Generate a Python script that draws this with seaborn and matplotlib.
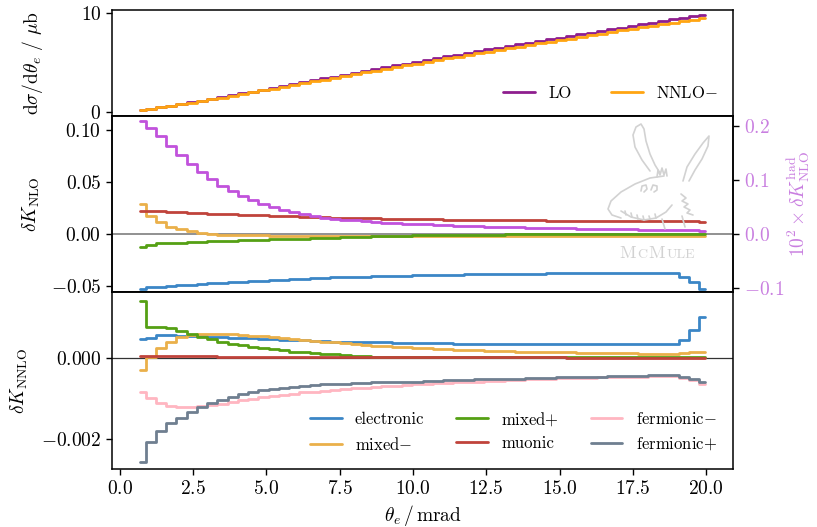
import numpy as np
import pandas as pd
import matplotlib
matplotlib.use("Agg")
import matplotlib.pyplot as plt
from matplotlib.lines import Line2D
from matplotlib.offsetbox import TextArea, HPacker, AnchoredOffsetbox
import seaborn as sns

# ---------------------------------------------------------------- data
# bin centres in theta_e (mrad)
theta = np.round(np.arange(0.70, 20.0, 0.35), 2)

lo = [0.15, 0.30, 0.46, 0.62, 0.79, 0.96, 1.13, 1.31,
      1.49, 1.67, 1.86, 2.05, 2.24, 2.43, 2.62, 2.81,
      3.00, 3.19, 3.38, 3.57, 3.76, 3.95, 4.14, 4.33,
      4.52, 4.71, 4.90, 5.08, 5.26, 5.44, 5.62, 5.80,
      5.98, 6.16, 6.34, 6.52, 6.69, 6.86, 7.03, 7.20,
      7.37, 7.54, 7.71, 7.88, 8.05, 8.22, 8.39, 8.56,
      8.73, 8.90, 9.06, 9.22, 9.38, 9.54, 9.70, 9.86]

nnlo_minus = [0.14, 0.29, 0.44, 0.60, 0.76, 0.93, 1.09, 1.26,
              1.44, 1.61, 1.79, 1.98, 2.16, 2.34, 2.53, 2.71,
              2.90, 3.08, 3.26, 3.45, 3.63, 3.81, 4.00, 4.18,
              4.36, 4.55, 4.73, 4.90, 5.08, 5.25, 5.42, 5.60,
              5.77, 5.94, 6.12, 6.29, 6.46, 6.62, 6.78, 6.95,
              7.11, 7.28, 7.44, 7.60, 7.77, 7.93, 8.10, 8.26,
              8.42, 8.59, 8.74, 8.90, 9.05, 9.21, 9.36, 9.51]

# NLO K-factor corrections
nlo_electronic = [-0.0525, -0.0513, -0.0506, -0.0500, -0.0494, -0.0488, -0.0482, -0.0476,
                  -0.0470, -0.0465, -0.0459, -0.0454, -0.0449, -0.0444, -0.0439, -0.0435,
                  -0.0431, -0.0427, -0.0423, -0.0419, -0.0416, -0.0413, -0.0410, -0.0407,
                  -0.0405, -0.0402, -0.0400, -0.0398, -0.0396, -0.0394, -0.0392, -0.0391,
                  -0.0389, -0.0388, -0.0386, -0.0385, -0.0384, -0.0383, -0.0382, -0.0381,
                  -0.0380, -0.0379, -0.0378, -0.0378, -0.0377, -0.0377, -0.0376, -0.0376,
                  -0.0375, -0.0375, -0.0375, -0.0374, -0.0374, -0.0414, -0.0460, -0.0525]

nlo_mixed_minus = [0.0285, 0.0170, 0.0112, 0.0064, 0.0042, 0.0026, 0.0010, -0.0003,
                   -0.0008, -0.0011, -0.0013, -0.0015, -0.0016, -0.0017, -0.0017, -0.0018,
                   -0.0018, -0.0018, -0.0018, -0.0018, -0.0018, -0.0018, -0.0018, -0.0018,
                   -0.0018, -0.0018, -0.0018, -0.0018, -0.0018, -0.0018, -0.0018, -0.0018,
                   -0.0018, -0.0018, -0.0018, -0.0018, -0.0018, -0.0018, -0.0018, -0.0018,
                   -0.0019, -0.0019, -0.0019, -0.0019, -0.0019, -0.0019, -0.0019, -0.0019,
                   -0.0019, -0.0019, -0.0019, -0.0019, -0.0019, -0.0019, -0.0019, -0.0019]

nlo_mixed_plus = [-0.0125, -0.0105, -0.0092, -0.0088, -0.0084, -0.0080, -0.0076, -0.0072,
                  -0.0069, -0.0066, -0.0063, -0.0060, -0.0057, -0.0054, -0.0051, -0.0048,
                  -0.0045, -0.0042, -0.0039, -0.0036, -0.0033, -0.0030, -0.0027, -0.0024,
                  -0.0022, -0.0020, -0.0018, -0.0016, -0.0014, -0.0012, -0.0011, -0.0010,
                  -0.0009, -0.0008, -0.0007, -0.0007, -0.0006, -0.0006, -0.0006, -0.0005,
                  -0.0005, -0.0005, -0.0005, -0.0005, -0.0005, -0.0005, -0.0005, -0.0005,
                  -0.0005, -0.0005, -0.0004, -0.0004, -0.0004, -0.0004, -0.0004, -0.0004]

nlo_muonic = [0.0222, 0.0218, 0.0215, 0.0211, 0.0207, 0.0203, 0.0199, 0.0195,
              0.0191, 0.0187, 0.0184, 0.0180, 0.0177, 0.0174, 0.0171, 0.0168,
              0.0165, 0.0162, 0.0159, 0.0156, 0.0154, 0.0152, 0.0150, 0.0148,
              0.0146, 0.0144, 0.0143, 0.0141, 0.0140, 0.0138, 0.0137, 0.0136,
              0.0135, 0.0134, 0.0133, 0.0132, 0.0131, 0.0130, 0.0129, 0.0128,
              0.0127, 0.0127, 0.0126, 0.0125, 0.0124, 0.0124, 0.0123, 0.0123,
              0.0122, 0.0122, 0.0121, 0.0121, 0.0120, 0.0120, 0.0119, 0.0118]

# hadronic NLO correction, multiplied by 10^2
nlo_hadronic_x100 = [0.209, 0.197, 0.181, 0.163, 0.146, 0.130, 0.115, 0.101,
                     0.089, 0.079, 0.070, 0.062, 0.055, 0.049, 0.044, 0.040,
                     0.036, 0.033, 0.030, 0.028, 0.026, 0.0245, 0.0230, 0.0218,
                     0.0207, 0.0197, 0.0188, 0.0180, 0.0172, 0.0165, 0.0158, 0.0151,
                     0.0145, 0.0139, 0.0133, 0.0128, 0.0123, 0.0118, 0.0113, 0.0109,
                     0.0105, 0.0101, 0.0097, 0.0093, 0.0090, 0.0087, 0.0084, 0.0081,
                     0.0078, 0.0075, 0.0072, 0.0069, 0.0066, 0.0063, 0.0060, 0.0057]

# NNLO K-factor corrections
nnlo_electronic = [0.00047, 0.00050, 0.00057, 0.00057, 0.00056, 0.00055, 0.00054, 0.00053,
                   0.00052, 0.00051, 0.00050, 0.00049, 0.00048, 0.00047, 0.00046, 0.00045,
                   0.00044, 0.00043, 0.00042, 0.00041, 0.00041, 0.00040, 0.00040, 0.00039,
                   0.00039, 0.00038, 0.00038, 0.00038, 0.00037, 0.00037, 0.00037, 0.00036,
                   0.00036, 0.00036, 0.00036, 0.00035, 0.00035, 0.00035, 0.00035, 0.00035,
                   0.00035, 0.00035, 0.00034, 0.00034, 0.00034, 0.00034, 0.00034, 0.00034,
                   0.00034, 0.00034, 0.00034, 0.00034, 0.00034, 0.00046, 0.00069, 0.00102]

nnlo_mixed_minus = [-0.00030, 0.00003, 0.00024, 0.00040, 0.00053, 0.00057, 0.00059, 0.00060,
                    0.00060, 0.00059, 0.00058, 0.00056, 0.00054, 0.00052, 0.00050, 0.00048,
                    0.00046, 0.00043, 0.00041, 0.00039, 0.00037, 0.00035, 0.00033, 0.00031,
                    0.00030, 0.00028, 0.00027, 0.00025, 0.00024, 0.00023, 0.00022, 0.00021,
                    0.00020, 0.00019, 0.00018, 0.00018, 0.00017, 0.00016, 0.00016, 0.00015,
                    0.00015, 0.00014, 0.00014, 0.00013, 0.00013, 0.00013, 0.00012, 0.00012,
                    0.00012, 0.00011, 0.00011, 0.00011, 0.00011, 0.00012, 0.00014, 0.00016]

nnlo_mixed_plus = [0.00142, 0.00076, 0.00076, 0.00075, 0.00068, 0.00060, 0.00053, 0.00047,
                   0.00041, 0.00036, 0.00032, 0.00028, 0.00025, 0.00022, 0.00019, 0.00016,
                   0.00014, 0.00012, 0.00010, 0.00009, 0.00007, 0.00006, 0.00005, 0.00004,
                   0.00004, 0.00003, 0.00003, 0.00003, 0.00003, 0.00003, 0.00003, 0.00003,
                   0.00003, 0.00003, 0.00003, 0.00003, 0.00003, 0.00003, 0.00003, 0.00003,
                   0.00002, 0.00002, 0.00002, 0.00002, 0.00002, 0.00002, 0.00002, 0.00002,
                   0.00002, 0.00002, 0.00002, 0.00002, 0.00002, 0.00002, 0.00002, 0.00002]

nnlo_muonic = [0.00005, 0.00005, 0.00005, 0.00005, 0.00005, 0.00005, 0.00005, 0.00005,
               0.00004, 0.00004, 0.00004, 0.00004, 0.00004, 0.00004, 0.00004, 0.00004,
               0.00004, 0.00004, 0.00003, 0.00003, 0.00003, 0.00003, 0.00003, 0.00003,
               0.00003, 0.00003, 0.00003, 0.00003, 0.00003, 0.00003, 0.00003, 0.00003,
               0.00002, 0.00002, 0.00002, 0.00002, 0.00002, 0.00002, 0.00002, 0.00002,
               0.00002, 0.00002, 0.00001, 0.00001, 0.00001, 0.00001, 0.00001, 0.00001,
               0.00001, 0.00001, 0.00001, 0.00001, 0.00001, 0.00001, 0.00001, 0.00001]

nnlo_fermionic_minus = [-0.00083, -0.00100, -0.00112, -0.00118, -0.00121, -0.00122, -0.00120, -0.00117,
                        -0.00113, -0.00109, -0.00105, -0.00101, -0.00097, -0.00094, -0.00091, -0.00088,
                        -0.00085, -0.00083, -0.00081, -0.00079, -0.00077, -0.00075, -0.00073, -0.00071,
                        -0.00069, -0.00068, -0.00066, -0.00065, -0.00063, -0.00062, -0.00061, -0.00060,
                        -0.00059, -0.00058, -0.00057, -0.00056, -0.00055, -0.00054, -0.00053, -0.00052,
                        -0.00051, -0.00050, -0.00050, -0.00049, -0.00049, -0.00048, -0.00048, -0.00047,
                        -0.00046, -0.00046, -0.00045, -0.00045, -0.00045, -0.00049, -0.00055, -0.00065]

nnlo_fermionic_plus = [-0.00257, -0.00209, -0.00181, -0.00162, -0.00148, -0.00133, -0.00122, -0.00112,
                       -0.00104, -0.00096, -0.00089, -0.00083, -0.00080, -0.00077, -0.00074, -0.00071,
                       -0.00069, -0.00067, -0.00065, -0.00064, -0.00063, -0.00062, -0.00061, -0.00060,
                       -0.00060, -0.00059, -0.00059, -0.00058, -0.00057, -0.00056, -0.00055, -0.00055,
                       -0.00054, -0.00053, -0.00053, -0.00052, -0.00051, -0.00051, -0.00050, -0.00049,
                       -0.00049, -0.00048, -0.00048, -0.00047, -0.00047, -0.00046, -0.00045, -0.00045,
                       -0.00044, -0.00044, -0.00043, -0.00043, -0.00042, -0.00046, -0.00052, -0.00060]

x_ticks = [0.0, 2.5, 5.0, 7.5, 10.0, 12.5, 15.0, 17.5, 20.0]

# ---------------------------------------------------------------- style
C_LO = "#8e1e8e"
C_NNLO = "#ffa512"
C_HAD = "#c152dc"
C_HAD_TXT = "#c97fe0"
C_ELEC = "#3b86c6"
C_MIXM = "#eab04a"
C_MIXP = "#55a014"
C_MUON = "#c0433b"
C_FERM = "#ffb6c1"
C_FERP = "#6f7f90"

sns.set_style("ticks")
plt.rcParams.update({
    "font.family": ["cmr10"],
    "mathtext.fontset": "cm",
    "axes.formatter.use_mathtext": True,
    "font.size": 14,
    "axes.labelsize": 14,
    "xtick.labelsize": 14,
    "ytick.labelsize": 14,
    "legend.fontsize": 12,
    "axes.edgecolor": "black",
    "axes.labelcolor": "black",
    "text.color": "black",
    "xtick.color": "black",
    "ytick.color": "black",
    "axes.linewidth": 1.1,
    "xtick.major.width": 1.0,
    "ytick.major.width": 1.0,
    "xtick.major.size": 4.0,
    "ytick.major.size": 4.0,
})

LW = 2.0


def step(ax, values, color, label):
    frame = pd.DataFrame({"theta": theta, "value": values})
    sns.lineplot(data=frame, x="theta", y="value", ax=ax, color=color, lw=LW,
                 drawstyle="steps-mid", estimator=None, sort=False, legend=False)
    line = ax.lines[-1]
    line.set_label(label)
    return line


fig = plt.figure(figsize=(8.17, 5.27), dpi=100)
gs = fig.add_gridspec(3, 1, height_ratios=[106, 176, 177], hspace=0,
                      left=0.1367, right=0.8976, top=0.981, bottom=0.1095)
ax0 = fig.add_subplot(gs[0])
ax1 = fig.add_subplot(gs[1], sharex=ax0)
ax2 = fig.add_subplot(gs[2], sharex=ax0)

# ---------------------------------------------------------------- top panel
h_lo = step(ax0, lo, C_LO, "LO")
h_nnlo = step(ax0, nnlo_minus, C_NNLO, "NNLO$-$")
ax0.set_ylim(-0.44, 10.34)
ax0.set_yticks([0, 10])
ax0.set_ylabel(r"$\mathrm{d}\sigma/\mathrm{d}\theta_e\ /\ \mu\mathrm{b}$")
ax0.legend(handles=[h_lo, h_nnlo], ncol=2, loc="lower right", frameon=False,
           handlelength=1.9, columnspacing=2.4)

# ---------------------------------------------------------------- NLO panel
ax1.axhline(0, color="0.45", lw=1.1, zorder=1)
h_e1 = step(ax1, nlo_electronic, C_ELEC, "electronic")
h_m1 = step(ax1, nlo_mixed_minus, C_MIXM, "mixed$-$")
h_p1 = step(ax1, nlo_mixed_plus, C_MIXP, "mixed$+$")
h_u1 = step(ax1, nlo_muonic, C_MUON, "muonic")
ax1.set_ylim(-0.0560, 0.1130)
ax1.set_yticks([-0.05, 0.0, 0.05, 0.10])
ax1.set_ylabel(r"$\delta K_\mathrm{NLO}$")

ax1r = ax1.twinx()
step(ax1r, nlo_hadronic_x100, C_HAD, "hadronic")
ax1r.set_ylim(-0.1087, 0.2184)
ax1r.set_yticks([-0.1, 0.0, 0.1, 0.2])
ax1r.tick_params(axis="y", labelcolor=C_HAD_TXT)
ax1r.set_ylabel(r"$10^2 \times \delta K^\mathrm{had}_\mathrm{NLO}$", color=C_HAD_TXT)

# ---------------------------------------------------------------- NNLO panel
ax2.axhline(0, color="0.2", lw=0.9, zorder=1)
h_e2 = step(ax2, nnlo_electronic, C_ELEC, "electronic")
h_m2 = step(ax2, nnlo_mixed_minus, C_MIXM, "mixed$-$")
h_p2 = step(ax2, nnlo_mixed_plus, C_MIXP, "mixed$+$")
h_u2 = step(ax2, nnlo_muonic, C_MUON, "muonic")
h_fm = step(ax2, nnlo_fermionic_minus, C_FERM, "fermionic$-$")
h_fp = step(ax2, nnlo_fermionic_plus, C_FERP, "fermionic$+$")
ax2.set_ylim(-0.002758, 0.001636)
ax2.set_yticks([-0.002, 0.0])
ax2.set_ylabel(r"$\delta K_\mathrm{NNLO}$")
ax2.legend(handles=[h_e2, h_m2, h_p2, h_u2, h_fm, h_fp], ncol=3,
           loc="lower right", frameon=False, handlelength=1.9,
           columnspacing=1.9, borderaxespad=0.6)

# ---------------------------------------------------------------- shared x axis
ax2.set_xlim(-0.28, 20.93)
ax2.set_xticks(x_ticks)
ax2.set_xlabel(r"$\theta_e\,/\,\mathrm{mrad}$")
for ax in (ax0, ax1):
    ax.tick_params(axis="x", labelbottom=False)
    ax.set_xlabel("")

ax0.yaxis.set_label_coords(-0.107, 0.5)
ax1.yaxis.set_label_coords(-0.112, 0.5)
ax2.yaxis.set_label_coords(-0.131, 0.5)
ax1r.yaxis.set_label_coords(1.085, 0.5)

# ---------------------------------------------------------------- McMule mark
LOGO = "#d2d2d2"


def px(points):
    arr = np.asarray(points, dtype=float)
    return arr[:, 0] / 817.0, 1.0 - arr[:, 1] / 527.0


strokes = [
    [(650, 171), (642, 160), (635, 147), (633, 135), (636, 127), (641, 124), (644, 129),
     (646, 141), (650, 154), (655, 165), (660, 173)],
    [(683, 181), (687, 167), (695, 154), (703, 143), (709, 136), (708, 146), (702, 159),
     (695, 170), (689, 181)],
    [(664, 176), (650, 178), (635, 184), (621, 192), (611, 201), (608, 209), (612, 215), (621, 218)],
    [(621, 211), (631, 217), (644, 220), (656, 218), (666, 212), (672, 205)],
    [(625, 211), (626, 215)], [(631, 213), (632, 217)], [(637, 215), (638, 219)],
    [(643, 216), (644, 220)], [(649, 216), (650, 219)], [(655, 214), (656, 218)],
    [(641, 191), (642, 186), (646, 185), (647, 189), (644, 192)],
    [(651, 190), (653, 185), (657, 186), (657, 190), (654, 192)],
    [(657, 177), (658, 170), (660, 175), (662, 168), (664, 175), (666, 169), (667, 176)],
    [(681, 194), (686, 198), (682, 201), (688, 204), (684, 207), (690, 210), (687, 213), (693, 215)],
    [(662, 219), (665, 229)], [(682, 216), (685, 227)],
]
for s in strokes:
    xs, ys = px(s)
    fig.add_artist(Line2D(xs, ys, transform=fig.transFigure, color=LOGO, lw=1.2,
                          solid_capstyle="round", solid_joinstyle="round", zorder=0.5))

parts = [("M", 13), ("C", 10), ("M", 13), ("ULE", 10)]
boxes = [TextArea(t, textprops=dict(fontsize=s, color=LOGO)) for t, s in parts]
mark = AnchoredOffsetbox(loc="center", child=HPacker(children=boxes, align="baseline", pad=0, sep=1),
                         frameon=False, pad=0, borderpad=0,
                         bbox_to_anchor=(657 / 817, 1 - 253 / 527), bbox_transform=fig.transFigure)
ax1.add_artist(mark)

fig.savefig("out.png", dpi=100)
